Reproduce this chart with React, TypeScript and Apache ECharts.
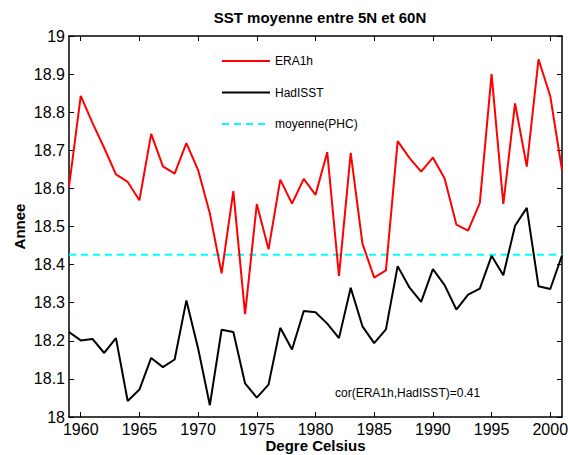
import React, { useEffect, useRef } from "react";
import * as echarts from "echarts";

const years = [
  1959, 1960, 1961, 1962, 1963, 1964, 1965, 1966, 1967, 1968, 1969, 1970, 1971,
  1972, 1973, 1974, 1975, 1976, 1977, 1978, 1979, 1980, 1981, 1982, 1983, 1984,
  1985, 1986, 1987, 1988, 1989, 1990, 1991, 1992, 1993, 1994, 1995, 1996, 1997,
  1998, 1999, 2000, 2001,
];

const era1h = [
  18.604, 18.843, 18.772, 18.706, 18.637, 18.617, 18.569, 18.743, 18.658,
  18.639, 18.719, 18.648, 18.534, 18.377, 18.593, 18.27, 18.559, 18.44, 18.623,
  18.56, 18.625, 18.583, 18.695, 18.37, 18.693, 18.455, 18.366, 18.385, 18.724,
  18.68, 18.644, 18.681, 18.626, 18.505, 18.489, 18.562, 18.9, 18.559, 18.823,
  18.657, 18.939, 18.842, 18.648,
];

const hadisst = [
  18.223, 18.201, 18.205, 18.168, 18.207, 18.042, 18.072, 18.155, 18.131,
  18.151, 18.306, 18.18, 18.031, 18.229, 18.223, 18.088, 18.051, 18.085,
  18.234, 18.177, 18.278, 18.275, 18.245, 18.207, 18.339, 18.238, 18.194,
  18.23, 18.396, 18.34, 18.302, 18.388, 18.346, 18.282, 18.321, 18.337, 18.423,
  18.372, 18.502, 18.549, 18.343, 18.336, 18.424,
];

const phcMean = 18.426;
const xTicks = [1960, 1965, 1970, 1975, 1980, 1985, 1990, 1995, 2000];
const xRange = [1959, 2001];
const yRange = [18, 19];
const yInterval = 0.1;

const FONT = '"Liberation Sans", Arial, sans-serif';

export default function App() {
  const ref = useRef<HTMLDivElement>(null);

  useEffect(() => {
    document.body.style.margin = "0";
    const chart = echarts.init(ref.current!, null, { renderer: "svg" });
    const axisLine = { show: true, lineStyle: { color: "#000", width: 1.5 } };
    const tick = { inside: true, length: 5, lineStyle: { color: "#000", width: 1 } };
    chart.setOption({
      animation: false,
      backgroundColor: "#fff",
      textStyle: { fontFamily: FONT },
      title: {
        text: "SST moyenne entre 5N et 60N",
        left: 315,
        textAlign: "center",
        top: 5,
        textStyle: { fontSize: 15, fontWeight: "bold", color: "#000", fontFamily: FONT },
      },
      grid: { left: 69, right: 6, top: 36, bottom: 38, outerBoundsMode: "none", containLabel: false },
      legend: {
        orient: "vertical",
        left: 216,
        top: 50,
        itemWidth: 48,
        itemHeight: 14,
        itemGap: 19.5,
        itemStyle: { opacity: 0 },
        data: ["ERA1h", "HadISST", "moyenne(PHC)"],
        textStyle: { fontSize: 12, color: "#000", fontFamily: FONT },
      },
      xAxis: [
        {
          type: "value",
          min: xRange[0],
          max: xRange[1],
          position: "bottom",
          axisLine,
          axisTick: { ...tick, customValues: xTicks },
          axisLabel: {
            customValues: xTicks,
            fontSize: 16,
            color: "#000",
            margin: 4,
            fontFamily: FONT,
            formatter: (v: number) => String(v),
          },
          splitLine: { show: false },
          name: "Degre Celsius",
          nameLocation: "middle",
          nameGap: 21,
          nameMoveOverlap: false,
          nameTextStyle: { fontSize: 15, fontWeight: "bold", color: "#000", fontFamily: FONT },
        },
        {
          type: "value",
          min: xRange[0],
          max: xRange[1],
          position: "top",
          axisLine,
          axisTick: { ...tick, customValues: xTicks },
          axisLabel: { show: false },
          splitLine: { show: false },
        },
      ],
      yAxis: [
        {
          type: "value",
          min: yRange[0],
          max: yRange[1],
          interval: yInterval,
          position: "left",
          axisLine,
          axisTick: tick,
          axisLabel: {
            fontSize: 16,
            color: "#000",
            margin: 4,
            fontFamily: FONT,
            formatter: (v: number) => String(Number(v.toFixed(1))),
          },
          splitLine: { show: false },
          name: "Annee",
          nameLocation: "middle",
          nameGap: 42,
          nameMoveOverlap: false,
          nameTextStyle: { fontSize: 15, fontWeight: "bold", color: "#000", fontFamily: FONT },
        },
        {
          type: "value",
          min: yRange[0],
          max: yRange[1],
          interval: yInterval,
          position: "right",
          axisLine,
          axisTick: tick,
          axisLabel: { show: false },
          splitLine: { show: false },
        },
      ],
      series: [
        {
          name: "ERA1h",
          type: "line",
          data: years.map((y, i) => [y, era1h[i]]),
          symbol: "none",
          lineStyle: { color: "#ff0000", width: 2 },
          itemStyle: { color: "#ff0000" },
          z: 3,
        },
        {
          name: "HadISST",
          type: "line",
          data: years.map((y, i) => [y, hadisst[i]]),
          symbol: "none",
          lineStyle: { color: "#000000", width: 2 },
          itemStyle: { color: "#000000" },
          z: 3,
        },
        {
          name: "moyenne(PHC)",
          type: "line",
          data: [
            [xRange[0], phcMean],
            [xRange[1], phcMean],
          ],
          symbol: "none",
          lineStyle: { color: "#00ffff", width: 2, type: [7, 5] },
          itemStyle: { color: "#00ffff" },
          z: 2,
        },
      ],
      graphic: [
        {
          type: "text",
          left: 335,
          top: 387,
          style: {
            text: "cor(ERA1h,HadISST)=0.41",
            font: `12px ${FONT}`,
            fill: "#000",
          },
        },
      ],
    });
    return () => chart.dispose();
  }, []);

  return <div ref={ref} style={{ width: 568, height: 455 }} />;
}
